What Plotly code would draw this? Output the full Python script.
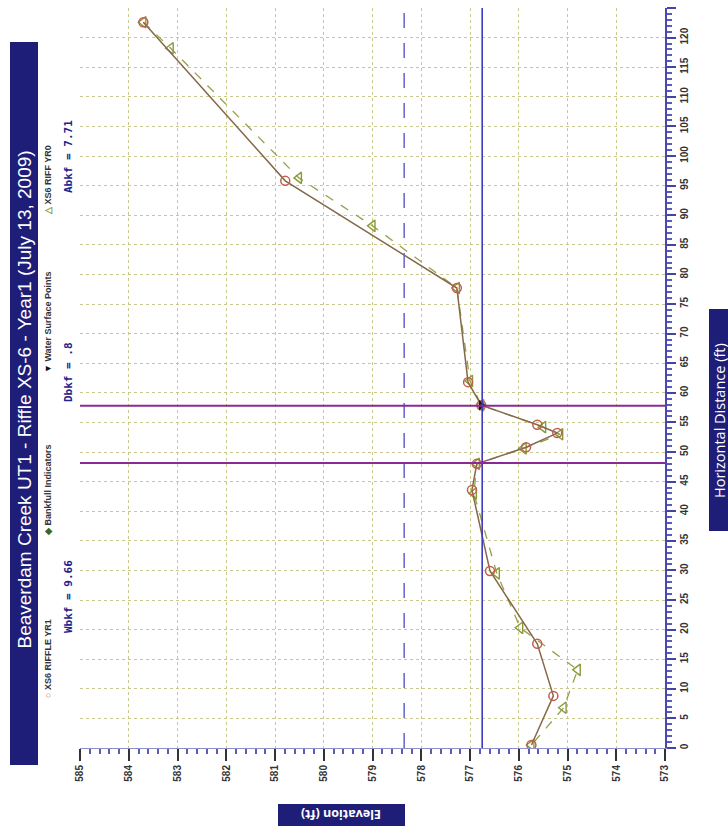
import plotly.graph_objects as go

# ---------------- data ----------------
title_text = "Beaverdam Creek UT1 - Riffle XS-6 - Year1 (July 13, 2009)"

yr1_dist = [122.6, 95.8, 77.7, 61.8, 57.9, 54.6, 53.2, 50.8, 48.0, 43.6, 29.9, 17.6, 8.8, 0.5]
yr1_elev = [583.70, 580.79, 577.27, 577.04, 576.77, 575.62, 575.21, 575.85, 576.86, 576.96, 576.59, 575.62, 575.29, 575.74]

yr0_dist = [122.6, 118.2, 96.3, 88.2, 77.7, 62.0, 57.9, 54.2, 53.0, 50.6, 48.0, 43.0, 29.5, 20.3, 13.2, 6.8, 0.5]
yr0_elev = [583.70, 583.14, 580.51, 579.00, 577.27, 577.00, 576.77, 575.50, 575.15, 575.90, 576.86, 576.92, 576.45, 575.97, 574.79, 575.08, 575.74]

ws_dist = [57.9]
ws_elev = [576.77]

bkf_stations = [57.8, 48.14]      # bankfull width markers (purple)
bkf_elev = 576.75                  # bankfull elevation (blue solid)
fp_elev = 578.35                   # flood-prone elevation (blue dashed)

elev_range = [585, 573]
dist_range = [0, 125]

stats = [("Abkf = 7.71", 157), ("Dbkf = .8", 372), ("Wbkf = 9.66", 597)]
legend_items = [
    ("<span style='color:#c0604a'>○</span> XS6 RIFFLE YR1", 659),
    ("<span style='color:#2f6a2a'>◆</span> Bankfull Indicators", 490),
    ("<span style='color:#111'>▼</span> Water Surface Points", 322),
    ("<span style='color:#8a9a3a'>△</span> XS6 RIFF YR0", 180),
]

# ---------------- layout geometry (pixels) ----------------
W, H = 728, 834
L, R, T, B = 80, 665, 8, 748
NAVY = "#1e1e78"


def px(xp):
    return (xp - L) / (R - L)


def py(yp):
    return (B - yp) / (B - T)


fig = go.Figure()

# YR0 dashed
fig.add_trace(go.Scatter(
    x=yr0_elev, y=yr0_dist, mode="lines+markers",
    line=dict(color="#96a048", width=1.3, dash="dash"),
    marker=dict(symbol="triangle-left-open", size=10, color="#8a9a3a", line=dict(width=1.4)),
    name="XS6 RIFF YR0"))

# YR1 solid
fig.add_trace(go.Scatter(
    x=yr1_elev, y=yr1_dist, mode="lines+markers",
    line=dict(color="#86684a", width=1.5),
    marker=dict(symbol="circle-open", size=9, color="#c0604a", line=dict(width=1.5)),
    name="XS6 RIFFLE YR1"))

# water surface point
fig.add_trace(go.Scatter(
    x=ws_elev, y=ws_dist, mode="markers",
    marker=dict(symbol="triangle-right", size=9, color="#1a1a1a"),
    name="Water Surface Points"))

shapes = []
shapes.append(dict(type="line", xref="x", yref="paper", x0=bkf_elev, x1=bkf_elev, y0=0, y1=1,
                   line=dict(color="#3c3cc0", width=1.6), layer="above"))
shapes.append(dict(type="line", xref="x", yref="paper", x0=fp_elev, x1=fp_elev, y0=0, y1=1,
                   line=dict(color="#6e6ed0", width=1.6, dash="longdash"), layer="above"))
for s in bkf_stations:
    shapes.append(dict(type="line", xref="paper", yref="y", x0=0, x1=1, y0=s, y1=s,
                       line=dict(color="#8a2a96", width=2), layer="above"))

shapes.append(dict(type="rect", xref="paper", yref="paper",
                   x0=px(10), x1=px(38), y0=py(765), y1=py(42),
                   fillcolor=NAVY, line=dict(width=0), layer="below"))
shapes.append(dict(type="rect", xref="paper", yref="paper",
                   x0=px(278), x1=px(405), y0=py(826), y1=py(804),
                   fillcolor=NAVY, line=dict(width=0), layer="below"))
shapes.append(dict(type="rect", xref="paper", yref="paper",
                   x0=px(709), x1=px(730), y0=py(531), y1=py(309),
                   fillcolor=NAVY, line=dict(width=0), layer="below"))

annotations = []


def ann(text, xp, yp, angle, font):
    annotations.append(dict(text=text, xref="paper", yref="paper", x=px(xp), y=py(yp),
                            xanchor="center", yanchor="middle", showarrow=False,
                            textangle=angle, font=font))


ann(title_text, 24.5, 400, -90, dict(family="Liberation Sans, Arial", size=19, color="white"))
ann("<b>Elevation (ft)</b>", 341, 815, 180, dict(family="Open Sans, DejaVu Sans", size=12.5, color="white"))
ann("Horizontal Distance (ft)", 719, 420, -90, dict(family="Open Sans, Noto Sans", size=14.5, color="white"))
for txt, yc in stats:
    ann("<b>" + txt + "</b>", 68, yc, -90,
        dict(family="DejaVu Sans Mono, Liberation Mono", size=11, color="#22228c"))
for txt, yc in legend_items:
    ann("<b>" + txt + "</b>", 48, yc, -90, dict(family="Liberation Sans Narrow, Liberation Sans, Arial", size=9, color="#333"))

fig.update_layout(
    width=W, height=H, autosize=False,
    margin=dict(l=L, r=W - R, t=T, b=H - B),
    paper_bgcolor="white", plot_bgcolor="white",
    showlegend=False,
    shapes=shapes, annotations=annotations,
    xaxis=dict(range=elev_range, dtick=1, tick0=573, tickangle=-90,
               ticks="outside", ticklen=12, tickcolor="#333", tickwidth=1.5,
               tickfont=dict(family="Liberation Sans, Arial", size=10, color="#333", weight="bold"),
               showgrid=True, gridcolor="#c8c890", griddash="dot", gridwidth=1,
               showline=True, linecolor="#9090c8", linewidth=1,
               minor=dict(dtick=0.2, ticks="outside", ticklen=5, tickcolor="#5a5ac0", showgrid=False),
               zeroline=False),
    yaxis=dict(range=dist_range, dtick=5, tick0=0, side="right", tickangle=-90,
               ticks="outside", ticklen=9, tickcolor="#4444a8", tickwidth=1.5,
               tickfont=dict(family="Liberation Sans, Arial", size=10, color="#333", weight="bold"),
               showgrid=True, gridcolor="#c8c890", griddash="dot", gridwidth=1,
               showline=True, linecolor="#4848b0", linewidth=2, mirror=False,
               minor=dict(dtick=1, ticks="outside", ticklen=5, tickcolor="#5a5ac0", showgrid=False),
               zeroline=False),
)

fig.write_html("out.html")
